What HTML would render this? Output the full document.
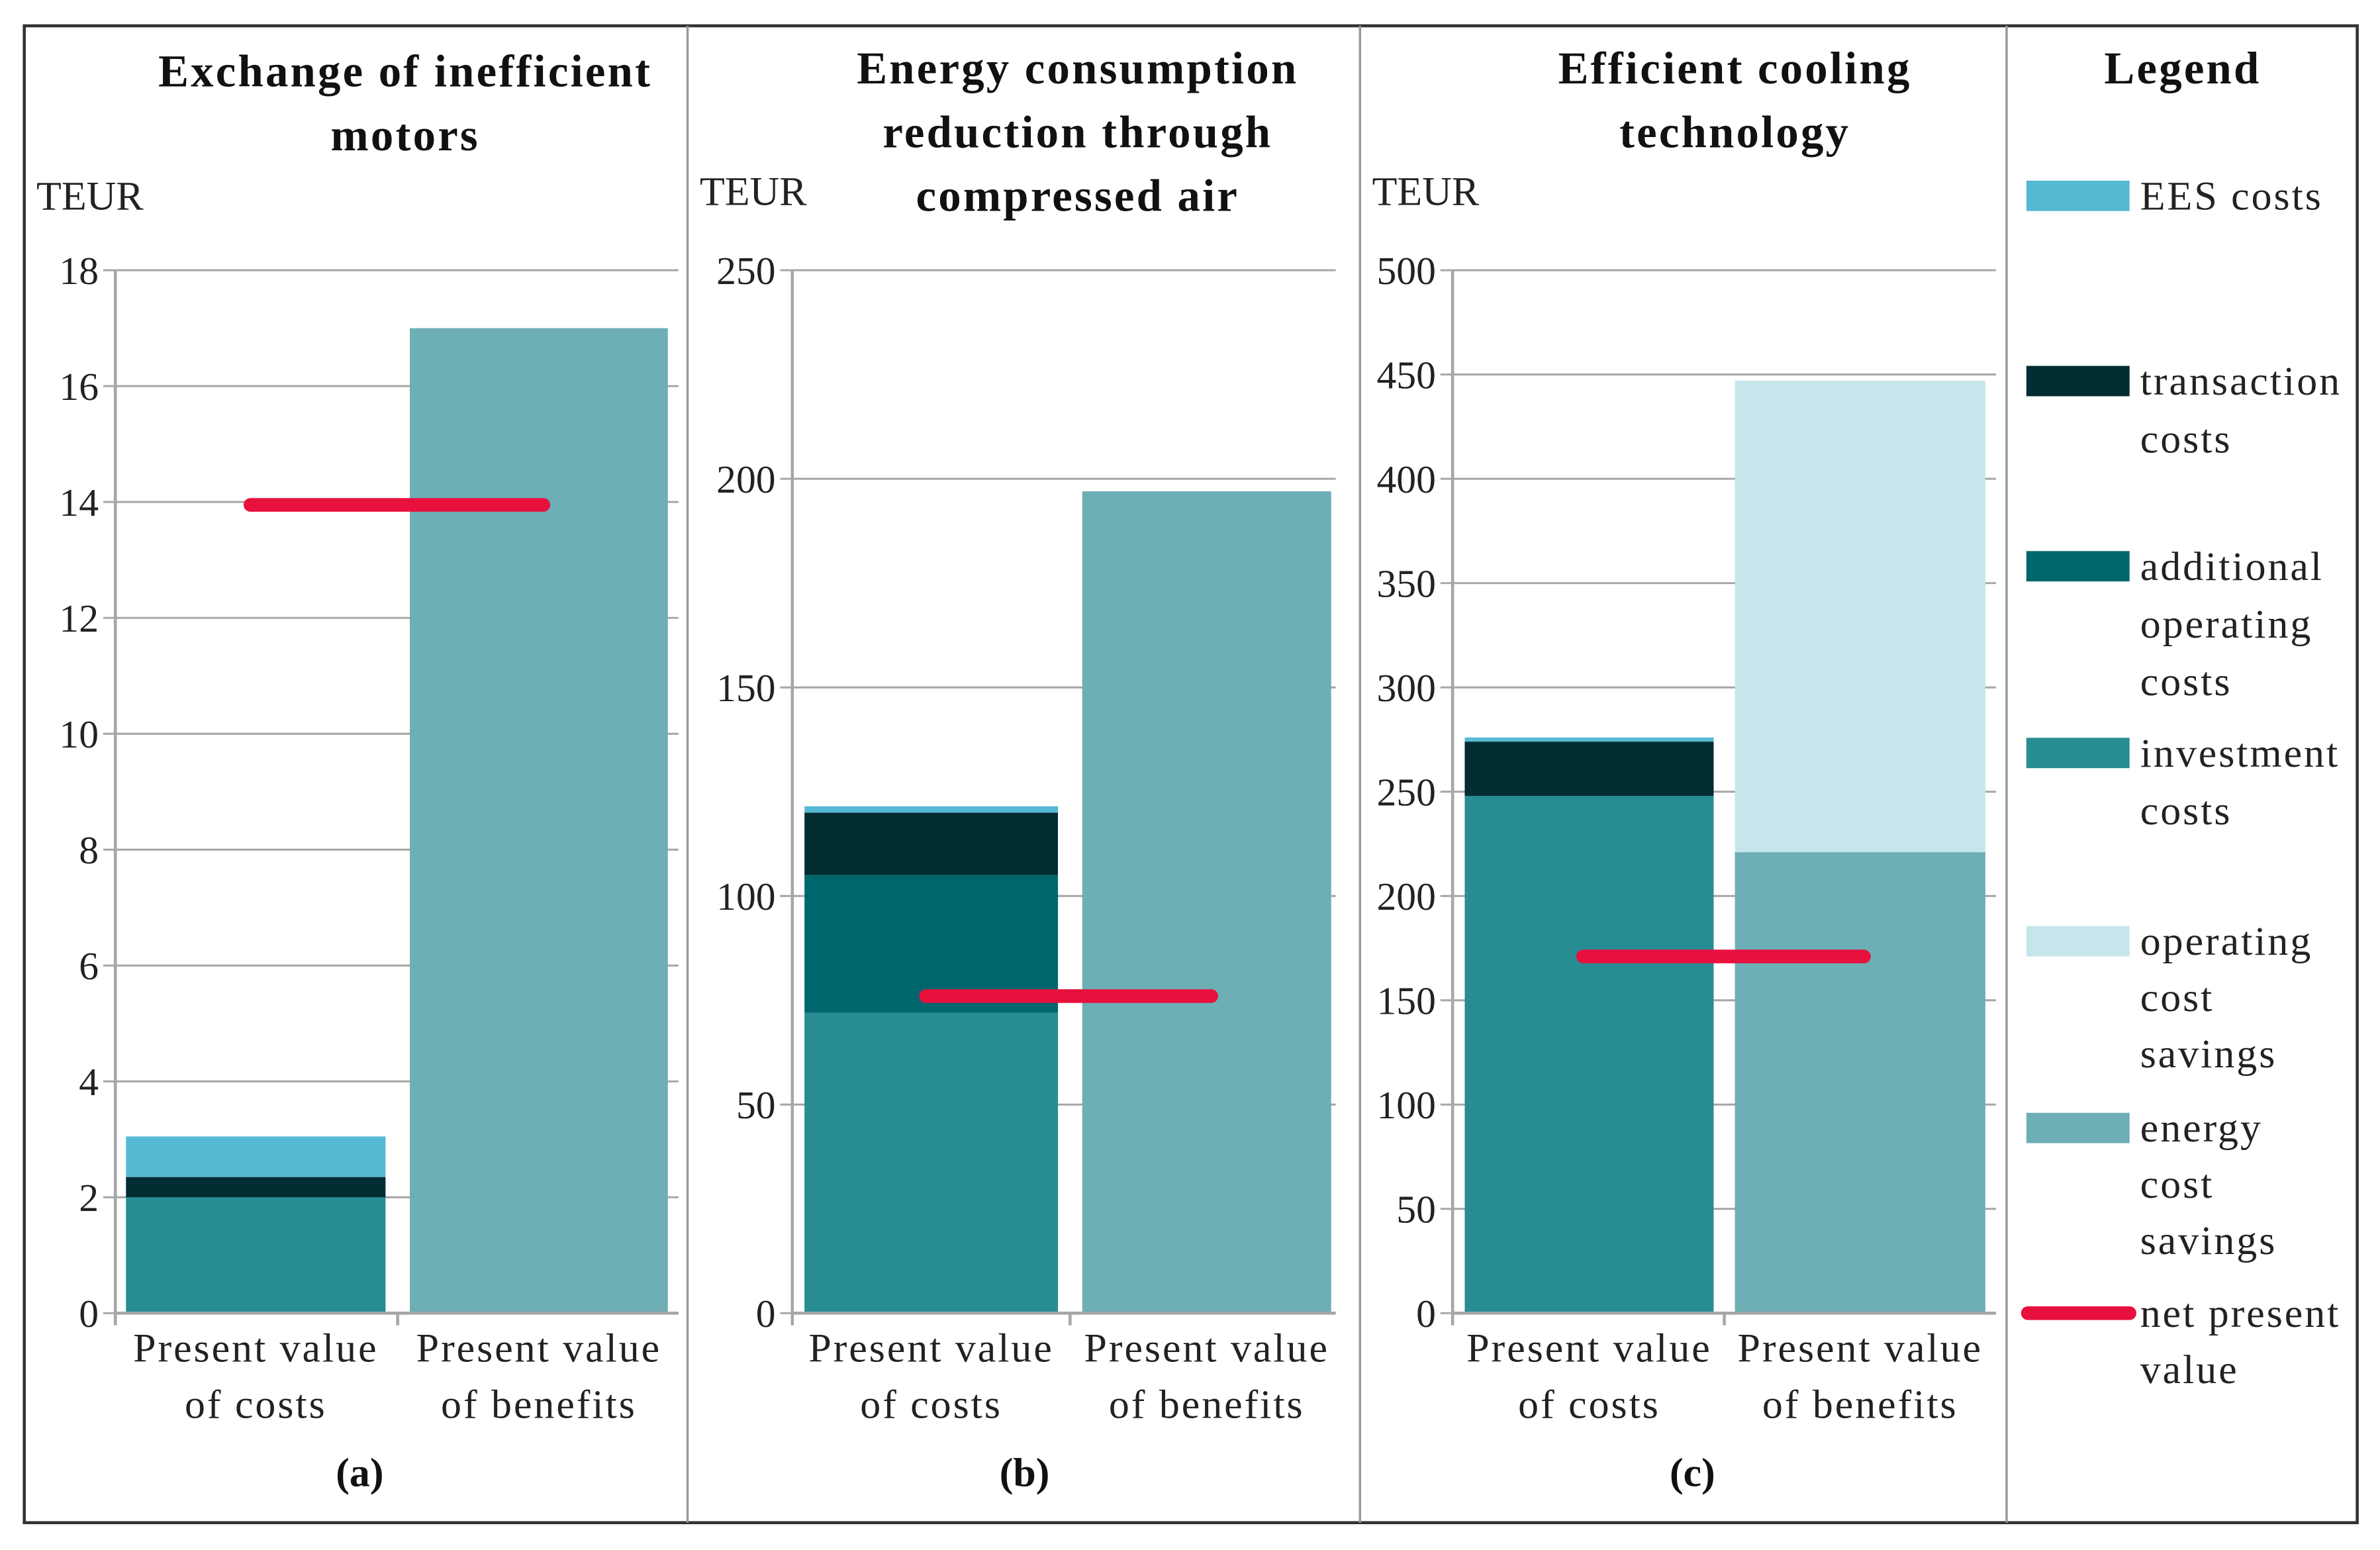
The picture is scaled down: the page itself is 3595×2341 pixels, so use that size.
<!DOCTYPE html>
<html><head><meta charset="utf-8"><style>
html,body{margin:0;padding:0;background:#fff;}
svg{display:block;font-family:"Liberation Serif",serif;}
.lbl{letter-spacing:1.3px;}
.ttl{letter-spacing:1.4px;}
</style></head><body>
<svg id="chart" width="3595" height="2341" viewBox="0 0 1568 1021" preserveAspectRatio="none" xmlns="http://www.w3.org/2000/svg"></svg>
<script>
const categories = ["Present value of costs", "Present value of benefits"];
const panelTitles = [["Exchange of inefficient","motors"],["Energy consumption","reduction through","compressed air"],["Efficient cooling","technology"]];
const panelLetters = ["(a)","(b)","(c)"];
const yMaxes = [18, 250, 500];
const yTicksA = [0,2,4,6,8,10,12,14,16,18];
const yTicksB = [0,50,100,150,200,250];
const yTicksC = [0,50,100,150,200,250,300,350,400,450,500];
// cost stack segments: investment, additional operating, transaction, EES
const investA = [2.0], addOpA = [0], transA = [0.35], eesA = [0.7];
const investB = [72], addOpB = [33], transB = [15], eesB = [1.5];
const investC = [248], addOpC = [0], transC = [26], eesC = [2];
// benefit stack: energy cost savings, operating cost savings
const energyA = [17], opSaveA = [0];
const energyB = [197], opSaveB = [0];
const energyC = [221], opSaveC = [226];
const npvValues = [13.95, 76, 171];

const C = {ees:"#56b9d4",trans:"#022d33",addop:"#00666e",invest:"#288c93",opsave:"#c6e6ec",energy:"#6eaeb5",npv:"#e8113d",grid:"#a6a6a6"};
const svg = document.getElementById('chart');
const NS = "http://www.w3.org/2000/svg";
function mk(tag, attrs, parent){const e=document.createElementNS(NS,tag);for(const k in attrs)e.setAttribute(k,attrs[k]);(parent||svg).appendChild(e);return e;}

const panels = [
 {ax:76, gridEnd:447, bars:[[83,254],[270,440]], npvX:[165,358], titleX:267, titleY:[47,89], teurX:24, teurY:129, ticks:yTicksA, inv:investA, add:addOpA, tr:transA, ees:eesA, en:energyA, op:opSaveA, letX:237},
 {ax:522, gridEnd:880, bars:[[530,697],[713,877]], npvX:[610,798], titleX:710, titleY:[45,87,129], teurX:461, teurY:126, ticks:yTicksB, inv:investB, add:addOpB, tr:transB, ees:eesB, en:energyB, op:opSaveB, letX:675},
 {ax:957, gridEnd:1315, bars:[[965,1129],[1143,1308]], npvX:[1043,1228], titleX:1143, titleY:[45,87], teurX:904, teurY:126, ticks:yTicksC, inv:investC, add:addOpC, tr:transC, ees:eesC, en:energyC, op:opSaveC, letX:1115}
];
const yTop=178, yBot=865;

mk('rect',{x:16,y:17,width:1537,height:986,fill:'none',stroke:'#333','stroke-width':2});
[453,896,1322].forEach(x=>{const l=mk('line',{x1:x,y1:17,x2:x,y2:1003,stroke:'#999','stroke-width':1.5});});

panels.forEach((p,i)=>{
  const g = mk('g',{});
  
  
  const yMax = yMaxes[i];
  const y = v => yBot - v/yMax*(yBot-yTop);
  p.titleY.forEach((ty,k)=>{const t=mk('text',{x:p.titleX,y:ty+10,'text-anchor':'middle','font-size':30,'font-weight':'bold',fill:'#111',class:'ttl'},g);t.textContent=panelTitles[i][k];});
  const te=mk('text',{x:p.teurX,y:p.teurY+9,'font-size':27,fill:'#222'},g);te.textContent='TEUR';
  p.ticks.forEach(v=>{
    const gl=mk('line',{x1:p.ax-8,y1:y(v),x2:p.gridEnd,y2:y(v),stroke:C.grid,'stroke-width':1.3},g);
    
    const tl=mk('text',{x:p.ax-11,y:y(v)+9,'text-anchor':'end','font-size':26,fill:'#222'},g);tl.textContent=v;
    
  });
  const segs=[[p.inv[0],C.invest,'investment'],[p.add[0],C.addop,'additional-operating'],[p.tr[0],C.trans,'transaction'],[p.ees[0],C.ees,'ees']];
  let base=0;
  segs.forEach(s=>{ if(s[0]>0){const r=mk('rect',{x:p.bars[0][0],y:y(base+s[0]),width:p.bars[0][1]-p.bars[0][0],height:y(base)-y(base+s[0]),fill:s[1]},g);} base+=s[0];});
  base=0;
  [[p.en[0],C.energy,'energy-savings'],[p.op[0],C.opsave,'operating-savings']].forEach(s=>{ if(s[0]>0){const r=mk('rect',{x:p.bars[1][0],y:y(base+s[0]),width:p.bars[1][1]-p.bars[1][0],height:y(base)-y(base+s[0]),fill:s[1]},g);} base+=s[0];});
  const ax=mk('line',{x1:p.ax,y1:yTop,x2:p.ax,y2:yBot+8,stroke:C.grid,'stroke-width':2},g);
  const xa=mk('line',{x1:p.ax,y1:yBot,x2:p.gridEnd,y2:yBot,stroke:C.grid,'stroke-width':2},g);
  const mid=(p.bars[0][1]+p.bars[1][0])/2;
  mk('line',{x1:mid,y1:yBot,x2:mid,y2:yBot+8,stroke:C.grid,'stroke-width':2},g);
  const npv=mk('line',{x1:p.npvX[0],y1:y(npvValues[i]),x2:p.npvX[1],y2:y(npvValues[i]),stroke:C.npv,'stroke-width':9,'stroke-linecap':'round'},g);
  
  categories.forEach((c,k)=>{
    const cx=(p.bars[k][0]+p.bars[k][1])/2;
    const parts=[c.slice(0,13),c.slice(14)];
    parts.forEach((t,j)=>{const e=mk('text',{x:cx,y:897+j*37,'text-anchor':'middle','font-size':27,fill:'#222',class:'lbl'},g);e.textContent=t;});
  });
  const lt=mk('text',{x:p.letX,y:979,'text-anchor':'middle','font-size':27,'font-weight':'bold',fill:'#111'},g);lt.textContent=panelLetters[i];
});

const lg=mk('g',{});


const lt=mk('text',{x:1438,y:55,'text-anchor':'middle','font-size':30,'font-weight':'bold',fill:'#111',class:'ttl'},lg);lt.textContent='Legend';
const items=[[C.ees,[129],['EES costs']],[C.trans,[251,289],['transaction','costs']],[C.addop,[373,411,449],['additional','operating','costs']],[C.invest,[496,534],['investment','costs']],[C.opsave,[620,657,694],['operating','cost','savings']],[C.energy,[743,780,817],['energy','cost','savings']]];
items.forEach(it=>{
  const g=mk('g',{},lg);
  
  
  mk('rect',{x:1335,y:it[1][0]-10,width:68,height:20,fill:it[0]},g);
  it[2].forEach((t,k)=>{const e=mk('text',{x:1410,y:it[1][k]+9,'font-size':27,fill:'#222',class:'lbl'},g);e.textContent=t;});
});
const ng=mk('g',{},lg);


mk('line',{x1:1336,y1:865,x2:1403,y2:865,stroke:C.npv,'stroke-width':9,'stroke-linecap':'round'},ng);
['net present','value'].forEach((t,k)=>{const e=mk('text',{x:1410,y:[865,902][k]+9,'font-size':27,fill:'#222',class:'lbl'},ng);e.textContent=t;});
</script>
</body></html>
